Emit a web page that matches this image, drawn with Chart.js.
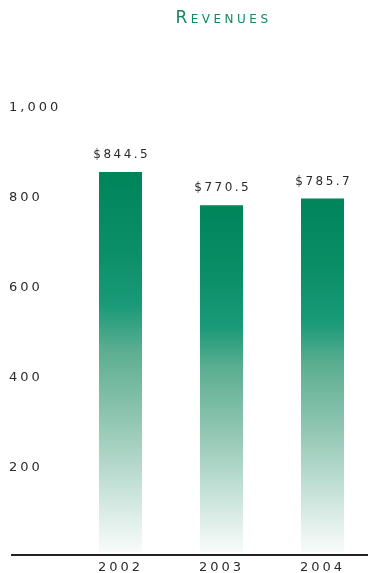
<!DOCTYPE html>
<html><head><meta charset="utf-8">
<script src="https://cdn.jsdelivr.net/npm/chart.js@4"></script>
<style>html,body{margin:0;padding:0;overflow:hidden;background:#fff}
#wrap{width:373px;height:573px;position:relative}</style></head>
<body><div id="wrap"><canvas id="c" width="373" height="573"></canvas></div>
<script>
const chartTitle = 'Revenues';
const categories = ['2002', '2003', '2004'];
const revenues = [844.5, 770.5, 785.7];
const yTickValues = [200, 400, 600, 800, 1000];

const FONT = '"DejaVu Sans", sans-serif';
const TEXT = '#2b2b2b';

function barGradient(c) {
  const chart = c.chart;
  if (!chart.chartArea) return '#00845a';
  const y = chart.scales.y;
  const top = y.getPixelForValue(c.raw);
  const bot = y.getPixelForValue(0);
  const g = chart.ctx.createLinearGradient(0, top, 0, bot);
  g.addColorStop(0.00, '#00845a');
  g.addColorStop(0.21, '#0b8f68');
  g.addColorStop(0.35, '#1a9a78');
  g.addColorStop(0.47, '#5cae91');
  g.addColorStop(0.66, '#93c7b4');
  g.addColorStop(0.81, '#c0dfd4');
  g.addColorStop(0.97, '#f0f7f4');
  g.addColorStop(1.00, '#f8fbfa');
  return g;
}

const decor = {
  id: 'decor',
  beforeDraw(chart) {
    chart.ctx.letterSpacing = '3px';
  },
  afterDatasetsDraw(chart) {
    const ctx = chart.ctx;
    const meta = chart.getDatasetMeta(0);
    ctx.save();
    ctx.letterSpacing = '2.5px';
    ctx.font = '12px ' + FONT;
    ctx.fillStyle = TEXT;
    ctx.textAlign = 'center';
    ctx.textBaseline = 'middle';
    meta.data.forEach((bar, i) => {
      ctx.fillText('$' + revenues[i].toFixed(1), bar.x + 1.25, bar.y - 17);
    });
    ctx.restore();
  },
  afterDraw(chart) {
    const ctx = chart.ctx;
    const yb = chart.scales.y.getPixelForValue(0) + 3;
    ctx.save();
    ctx.strokeStyle = '#222222';
    ctx.lineWidth = 2;
    ctx.beginPath();
    ctx.moveTo(11, yb);
    ctx.lineTo(chart.width, yb);
    ctx.stroke();
    // title
    ctx.font = '17px ' + FONT;
    ctx.fontVariantCaps = 'small-caps';
    ctx.letterSpacing = '3.5px';
    ctx.fillStyle = '#17885e';
    ctx.textAlign = 'center';
    ctx.textBaseline = 'middle';
    const ca = chart.chartArea;
    ctx.fillText(chartTitle, (ca.left + ca.right) / 2 + 2, 19);
    ctx.restore();
  }
};

new Chart(document.getElementById('c'), {
  type: 'bar',
  data: {
    labels: categories,
    datasets: [{
      label: chartTitle,
      data: revenues,
      backgroundColor: barGradient,
      borderWidth: 0,
      categoryPercentage: 1,
      barPercentage: 0.426
    }]
  },
  options: {
    responsive: false,
    animation: false,
    devicePixelRatio: 1,
    layout: { padding: { left: 9, top: 102, right: 0, bottom: 0 } },
    plugins: { legend: { display: false }, title: { display: false }, tooltip: { enabled: false } },
    scales: {
      x: {
        grid: { display: false, drawTicks: false },
        border: { display: false },
        ticks: { color: TEXT, font: { family: FONT, size: 13 }, padding: 8 },
        afterFit(s) { s.height = 21; }
      },
      y: {
        min: 0, max: 1000,
        afterBuildTicks(s) { s.ticks = yTickValues.map(v => ({ value: v })); },
        grid: { display: false, drawTicks: false },
        border: { display: false },
        ticks: {
          color: TEXT, font: { family: FONT, size: 13 }, crossAlign: 'far', labelOffset: 6, padding: 0,
          callback: v => v.toLocaleString('en-US')
        },
        afterFit(s) { s.width = 61; }
      }
    }
  },
  plugins: [decor]
});
</script></body></html>
